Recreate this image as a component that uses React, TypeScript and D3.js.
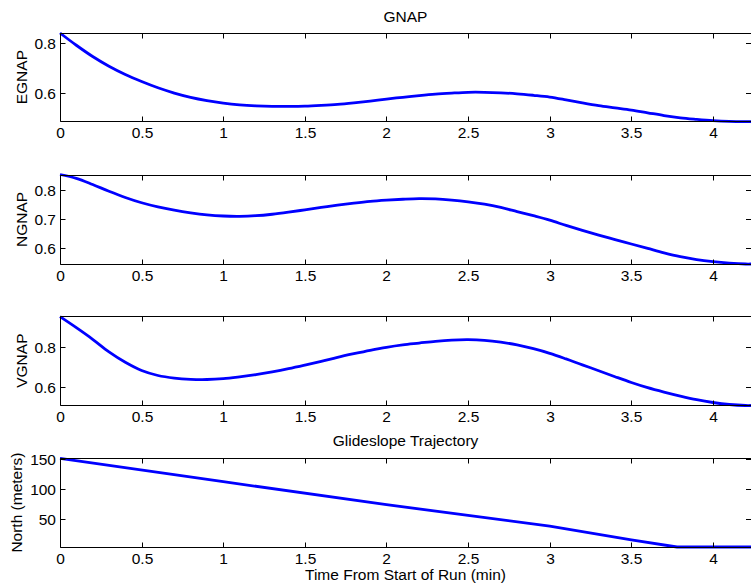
import React from "react";
import * as d3 from "d3";

const timeGrid = [0, 0.1, 0.2, 0.3, 0.4, 0.5, 0.6, 0.7, 0.8, 0.9, 1.0, 1.1, 1.2, 1.3, 1.4, 1.5, 1.6, 1.7, 1.8, 1.9, 2.0, 2.1, 2.2, 2.3, 2.4, 2.5, 2.6, 2.7, 2.8, 2.9, 3.0, 3.1, 3.2, 3.3, 3.4, 3.5, 3.6, 3.7, 3.8, 3.9, 4.0, 4.1, 4.2, 4.233];

const egnap = [0.84, 0.791, 0.746, 0.707, 0.674, 0.646, 0.621, 0.6, 0.583, 0.57, 0.56, 0.553, 0.549, 0.547, 0.547, 0.548, 0.551, 0.555, 0.561, 0.568, 0.576, 0.583, 0.59, 0.596, 0.6, 0.603, 0.603, 0.601, 0.597, 0.591, 0.584, 0.573, 0.561, 0.55, 0.541, 0.532, 0.521, 0.51, 0.501, 0.495, 0.49, 0.487, 0.486, 0.486];

const ngnap = [0.851, 0.838, 0.817, 0.794, 0.773, 0.755, 0.741, 0.73, 0.721, 0.714, 0.71, 0.709, 0.711, 0.716, 0.723, 0.731, 0.739, 0.747, 0.754, 0.76, 0.764, 0.767, 0.769, 0.768, 0.764, 0.758, 0.75, 0.739, 0.725, 0.711, 0.696, 0.678, 0.661, 0.645, 0.63, 0.615, 0.6, 0.585, 0.572, 0.562, 0.555, 0.55, 0.547, 0.547];

const vgnap = [0.953, 0.898, 0.84, 0.777, 0.725, 0.684, 0.659, 0.646, 0.64, 0.639, 0.643, 0.652, 0.663, 0.677, 0.693, 0.711, 0.73, 0.75, 0.768, 0.785, 0.8, 0.812, 0.821, 0.83, 0.836, 0.838, 0.835, 0.826, 0.812, 0.793, 0.77, 0.742, 0.712, 0.683, 0.653, 0.624, 0.598, 0.576, 0.556, 0.538, 0.524, 0.514, 0.509, 0.509];

const northTime = [0, 1.0, 2.0, 2.5, 3.0, 3.5, 3.78, 4.0, 4.233];
const northValues = [151.5, 112.5, 74, 56, 38, 15, 3, 3, 3];

const xTicks = [0, 0.5, 1, 1.5, 2, 2.5, 3, 3.5, 4];
const xTickLabels = ["0", "0.5", "1", "1.5", "2", "2.5", "3", "3.5", "4"];

const panelLabels = ["EGNAP", "NGNAP", "VGNAP", "North (meters)"];
const panelDomains = [
  [0.487, 0.84],
  [0.546, 0.851],
  [0.5115, 0.955],
  [3, 151.7],
];
const panelTicks = [
  [0.6, 0.8],
  [0.6, 0.7, 0.8],
  [0.6, 0.8],
  [50, 100, 150],
];
const panelTickLabels = [
  ["0.6", "0.8"],
  ["0.6", "0.7", "0.8"],
  ["0.6", "0.8"],
  ["50", "100", "150"],
];

const titleTop = "GNAP";
const titleBottom = "Glideslope Trajectory";
const xAxisLabel = "Time From Start of Run (min)";

const W = 751;
const H = 587;
const left = 60;
const right = 751;
const tops = [33, 174.5, 316.3, 458.3];
const heights = [88.3, 89.8, 88.7, 88.7];
const FONT = "'Liberation Sans', Arial, Helvetica, sans-serif";
const FS = 15.5;
const BLUE = "#0000ff";

export default function App() {
  const x = d3.scaleLinear().domain([0, 4.233]).range([left, right]);
  const series = [
    timeGrid.map((t, i) => [t, egnap[i]]),
    timeGrid.map((t, i) => [t, ngnap[i]]),
    timeGrid.map((t, i) => [t, vgnap[i]]),
    northTime.map((t, i) => [t, northValues[i]]),
  ];

  return (
    <svg
      width={W}
      height={H}
      style={{ position: "absolute", left: 0, top: 0, background: "#fff" }}
      fontFamily={FONT}
    >
      <rect x={0} y={0} width={W} height={H} fill="#fff" />
      {series.map((data, p) => {
        const top = tops[p];
        const bottom = top + heights[p];
        const y = d3.scaleLinear().domain(panelDomains[p]).range([bottom, top]);
        const line = d3
          .line<number[]>()
          .x((d) => x(d[0]))
          .y((d) => y(d[1]))
          .curve(p === 3 ? d3.curveLinear : d3.curveCatmullRom.alpha(0.5));
        const L = Math.round(left) + 0.5;
        const T = Math.round(top) + 0.5;
        const B = Math.round(bottom) + 0.5;
        return (
          <g key={p}>
            <path d={line(data as any) || ""} fill="none" stroke={BLUE} strokeWidth={2.8} strokeLinejoin="round" />
            <line x1={L} x2={right} y1={T} y2={T} stroke="#000" strokeWidth={1} />
            <line x1={L} x2={right} y1={B} y2={B} stroke="#000" strokeWidth={1} />
            <line x1={L} x2={L} y1={T} y2={B} stroke="#000" strokeWidth={1} />
            {xTicks.map((t, i) => {
              const xx = Math.round(x(t)) + 0.5;
              return (
                <g key={i}>
                  <line x1={xx} x2={xx} y1={T} y2={T + 5} stroke="#000" />
                  <line x1={xx} x2={xx} y1={B} y2={B - 5} stroke="#000" />
                  <text x={xx} y={B + 16.5} fontSize={FS} textAnchor="middle" fill="#000">
                    {xTickLabels[i]}
                  </text>
                </g>
              );
            })}
            {panelTicks[p].map((v, i) => {
              const yy = Math.round(y(v)) + 0.5;
              return (
                <g key={i}>
                  <line x1={L} x2={L + 5} y1={yy} y2={yy} stroke="#000" />
                  <line x1={right - 5} x2={right} y1={yy} y2={yy} stroke="#000" />
                  <text x={56} y={yy + 5.5} fontSize={FS} textAnchor="end" fill="#000">
                    {panelTickLabels[p][i]}
                  </text>
                </g>
              );
            })}
            <text
              transform={`translate(${p === 3 ? 22 : 26.5},${(top + bottom) / 2}) rotate(-90)`}
              fontSize={FS}
              textAnchor="middle"
              fill="#000"
            >
              {panelLabels[p]}
            </text>
          </g>
        );
      })}
      <text x={(left + right) / 2} y={21.5} fontSize={FS} textAnchor="middle" fill="#000">
        {titleTop}
      </text>
      <text x={(left + right) / 2} y={446} fontSize={FS} textAnchor="middle" fill="#000">
        {titleBottom}
      </text>
      <text x={(left + right) / 2} y={580} fontSize={FS} textAnchor="middle" fill="#000">
        {xAxisLabel}
      </text>
    </svg>
  );
}
